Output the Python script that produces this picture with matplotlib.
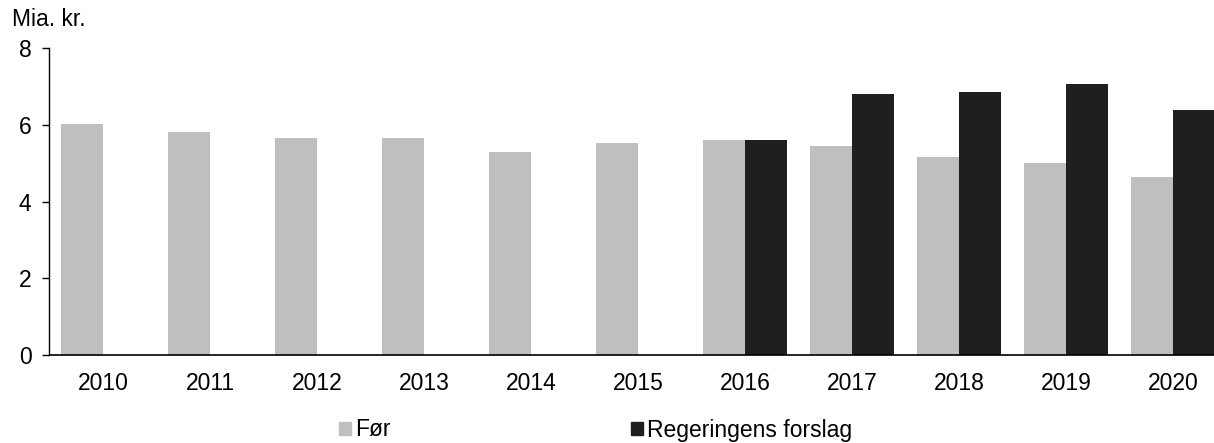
import matplotlib
matplotlib.use("Agg")
import matplotlib.pyplot as plt
import numpy as np
from matplotlib.patches import Patch

plt.rcParams['font.family'] = ['Liberation Sans', 'DejaVu Sans']

years = ["2010", "2011", "2012", "2013", "2014", "2015", "2016", "2017", "2018", "2019", "2020"]
foer = [6.03, 5.82, 5.66, 5.65, 5.30, 5.52, 5.60, 5.45, 5.17, 5.00, 4.64]
forslag = [np.nan, np.nan, np.nan, np.nan, np.nan, np.nan, 5.60, 6.81, 6.85, 7.06, 6.39]

W, H = 1214, 443
FS = 16.5
fig = plt.figure(figsize=(W / 100, H / 100), dpi=100)
left = 49.5 / W
right = (49.5 + 11 * 107) / W
bottom = (H - 355) / H
top = (H - 48.3) / H
ax = fig.add_axes([left, bottom, right - left, top - bottom])

x = np.arange(len(years))
w = 0.397
ax.bar(x - w / 2, foer, width=w, color="#BFBFBF", label="Før")
ax.bar(x + w / 2, forslag, width=w, color="#1F1F1F", label="Regeringens forslag")

ax.set_xlim(-0.5, len(years) - 0.5)
ax.set_ylim(0, 8)
ax.set_yticks([0, 2, 4, 6, 8])
ax.set_xticks(x)
ax.set_xticklabels(years)
ax.tick_params(axis='x', length=0, pad=12, labelsize=FS)
ax.tick_params(axis='y', length=5, width=1, direction='out', pad=8, labelsize=FS)
for s in ["top", "right"]:
    ax.spines[s].set_visible(False)
ax.spines["left"].set_linewidth(1)
ax.spines["bottom"].set_linewidth(1.2)

fig.text(12 / W, 1 - 19 / H, "Mia. kr.", fontsize=FS, ha="left", va="center")

handles = [Patch(color="#BFBFBF"), Patch(color="#1F1F1F")]
fig.legend(handles, ["Før", "Regeringens forslag"], ncol=2, frameon=False,
           loc="center", bbox_to_anchor=(595.5 / W, 1 - 430 / H), fontsize=FS,
           handlelength=0.53, handleheight=0.53, handletextpad=0.15,
           columnspacing=10.5, borderpad=0, borderaxespad=0)

fig.savefig("out.png", dpi=100)
